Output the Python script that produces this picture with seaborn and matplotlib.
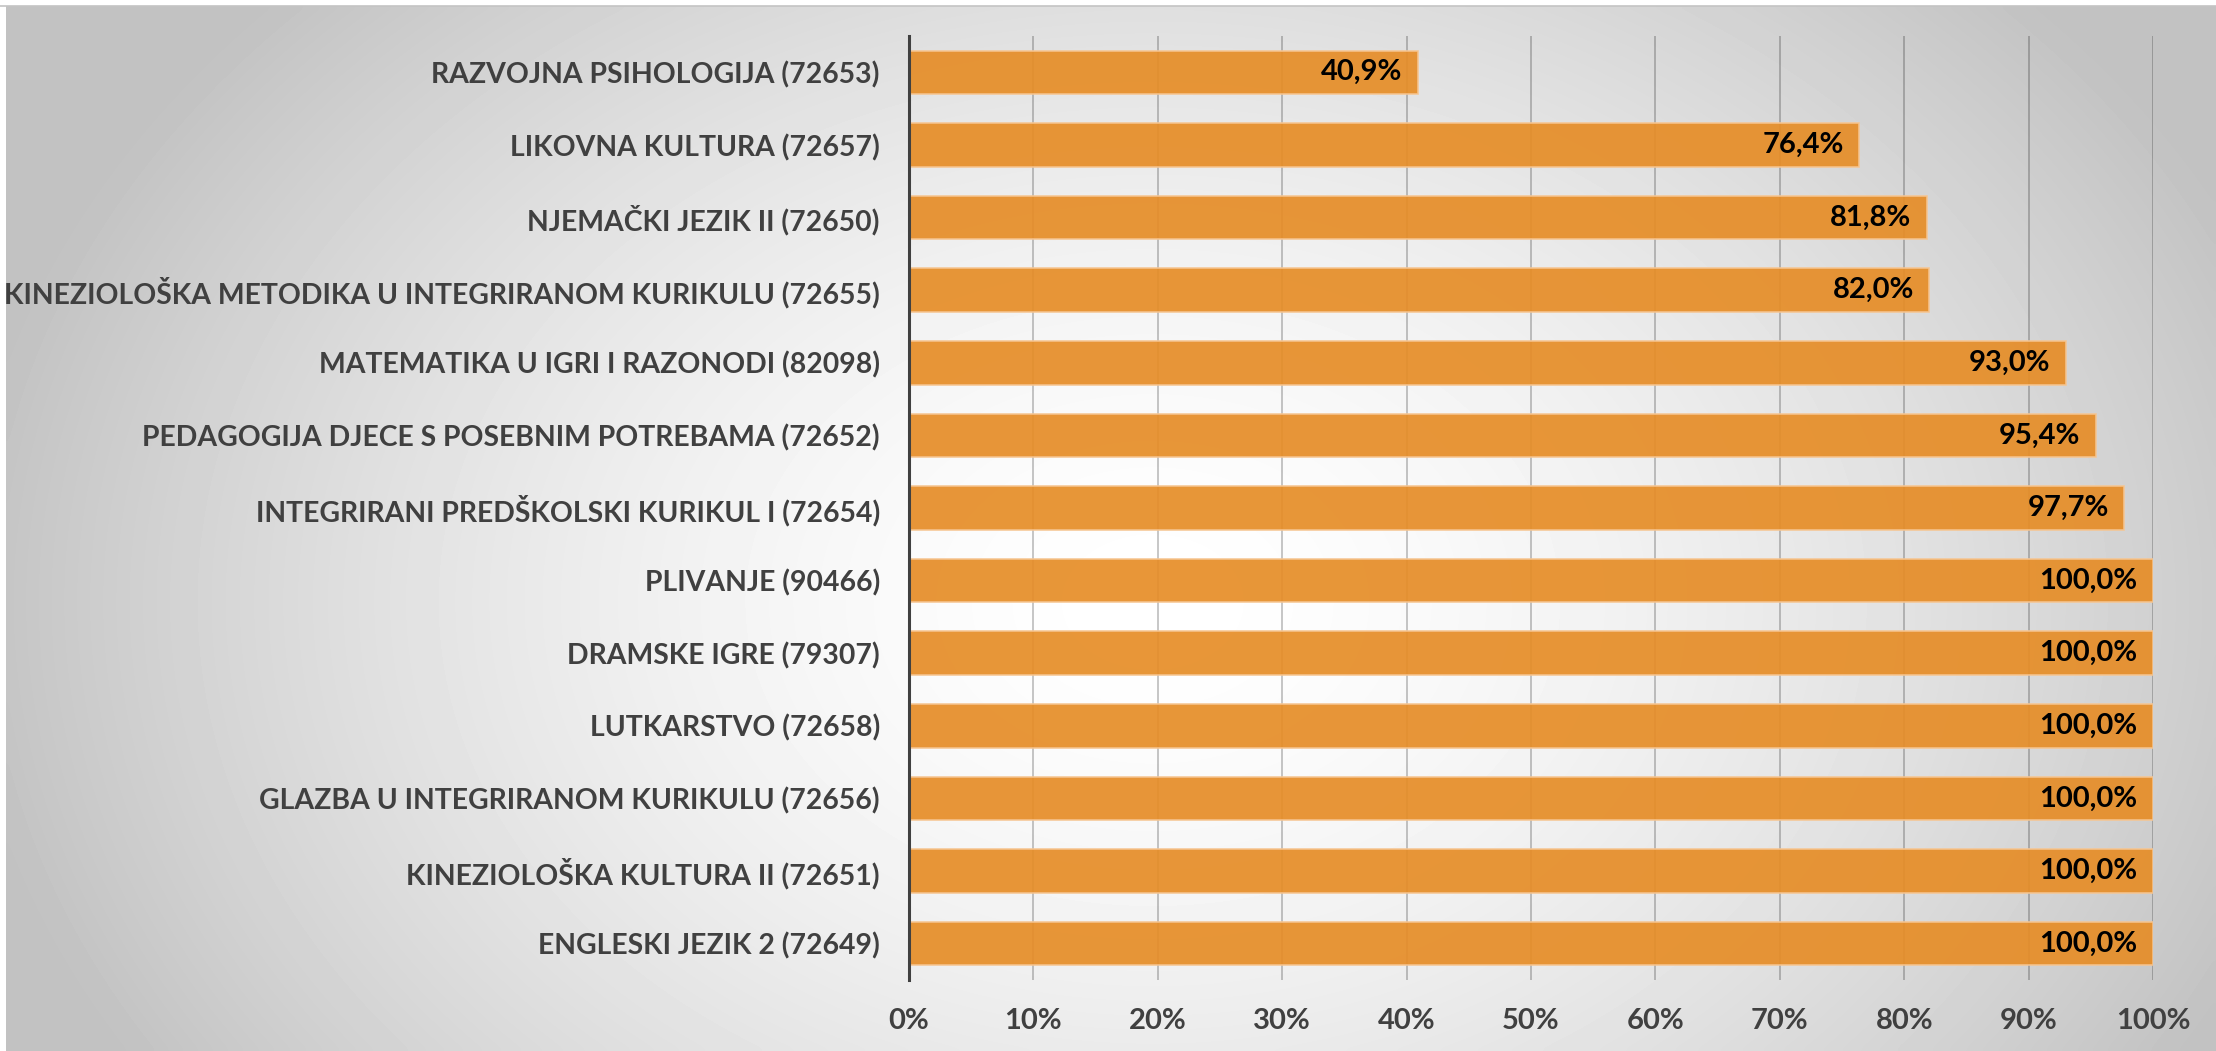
#!/usr/bin/env python
# coding: utf-8

# Imports
import numpy as np
import pandas as pd
import seaborn as sns
import matplotlib
matplotlib.use("Agg")
import matplotlib.pyplot as plt
from matplotlib.lines import Line2D

sns.set_style("white")
plt.rcParams['font.family'] = ['Lato', 'DejaVu Sans']


# Data
courses = [
    "RAZVOJNA PSIHOLOGIJA (72653)",
    "LIKOVNA KULTURA (72657)",
    "NJEMAČKI JEZIK II (72650)",
    "KINEZIOLOŠKA METODIKA U INTEGRIRANOM KURIKULU (72655)",
    "MATEMATIKA U IGRI I RAZONODI (82098)",
    "PEDAGOGIJA DJECE S POSEBNIM POTREBAMA (72652)",
    "INTEGRIRANI PREDŠKOLSKI KURIKUL I (72654)",
    "PLIVANJE (90466)",
    "DRAMSKE IGRE (79307)",
    "LUTKARSTVO (72658)",
    "GLAZBA U INTEGRIRANOM KURIKULU (72656)",
    "KINEZIOLOŠKA KULTURA II (72651)",
    "ENGLESKI JEZIK 2 (72649)",
]
pass_rate = [40.9, 76.4, 81.8, 82.0, 93.0, 95.4, 97.7, 100.0, 100.0, 100.0, 100.0, 100.0, 100.0]
x_ticks = [0, 10, 20, 30, 40, 50, 60, 70, 80, 90, 100]
x_tick_labels = ["0%", "10%", "20%", "30%", "40%", "50%", "60%", "70%", "80%", "90%", "100%"]

df = pd.DataFrame({"course": courses, "rate": pass_rate})

W, H = 2216, 1051
fig = plt.figure(figsize=(W / 100, H / 100), dpi=100)
fig.patch.set_facecolor("white")

## radial grey-to-white background (Excel style fill)
bg = fig.add_axes([6 / W, 0, 1 - 6 / W, 1 - 6 / H], zorder=0)
gx, gy = np.meshgrid(np.linspace(0, W, 400), np.linspace(0, H, 200))
d = np.sqrt(((gx - 1150) / 1200) ** 2 + ((gy - 600) / 900) ** 2)
shade = 1 - 0.24 * np.clip(d, 0, 1) ** 1.6
bg.imshow(shade, cmap="gray", vmin=0, vmax=1, aspect="auto",
          extent=[0, W, H, 0], interpolation="bicubic")
bg.axis("off")
fig.add_artist(Line2D([0, 1], [1 - 5.5 / H, 1 - 5.5 / H], transform=fig.transFigure,
                      color="#c4c4c4", lw=1.2))

## bar chart
ax = fig.add_axes([909 / W, 1 - 980 / H, (2153 - 909) / W, (980 - 36) / H], zorder=1)
ax.set_facecolor("none")
ax.set_axisbelow(True)
ax.grid(axis="x", color="black", alpha=0.28, lw=1.1)

sns.barplot(data=df, x="rate", y="course", orient="h", ax=ax, width=0.6,
            color="#E68D27", alpha=0.92, edgecolor="#F6C591", linewidth=1.2,
            saturation=1)

for i, v in enumerate(pass_rate):
    ax.annotate(f"{v:.1f}%".replace(".", ","), xy=(v, i), xytext=(-11, 0),
                textcoords="offset points", ha="right", va="center",
                fontsize=21, fontweight="bold", color="black")

ax.set_xlim(0, 100)
ax.set_xticks(x_ticks)
ax.set_xticklabels(x_tick_labels)
ax.set_xlabel("")
ax.set_ylabel("")
ax.tick_params(axis="x", length=0, pad=20, labelsize=21, labelcolor="#404040")
ax.tick_params(axis="y", length=0, pad=21, labelsize=20.4, labelcolor="#404040")
for lbl in ax.get_xticklabels() + ax.get_yticklabels():
    lbl.set_fontweight("bold")

for s in ["top", "right", "bottom"]:
    ax.spines[s].set_visible(False)
ax.spines["left"].set_color("#404040")
ax.spines["left"].set_linewidth(2.2)

fig.savefig("out.png", dpi=100)
